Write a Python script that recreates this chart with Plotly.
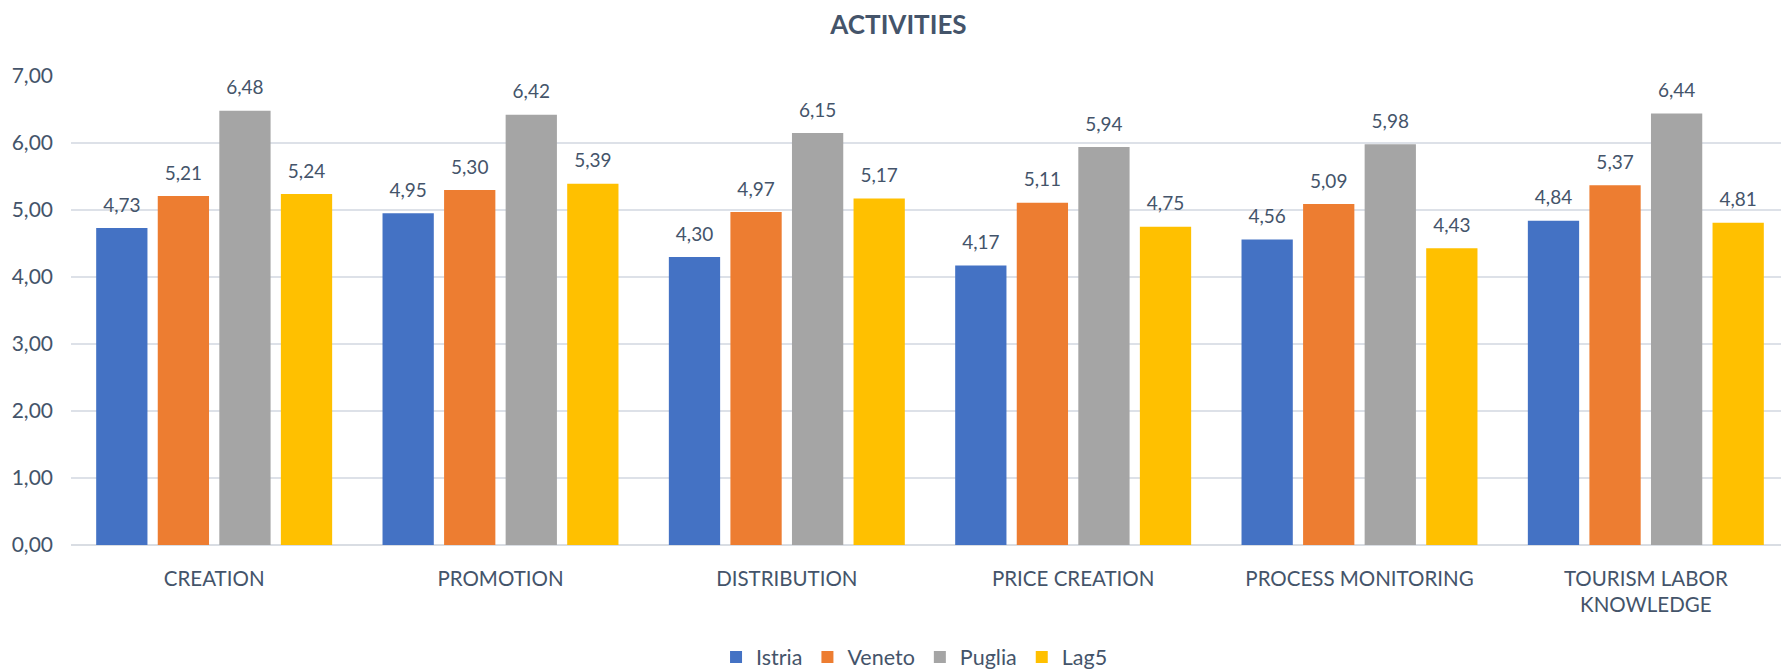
import plotly.graph_objects as go

# categories and values
categories = ["CREATION", "PROMOTION", "DISTRIBUTION", "PRICE CREATION",
              "PROCESS MONITORING", "TOURISM LABOR<br>KNOWLEDGE"]
istria = [4.73, 4.95, 4.30, 4.17, 4.56, 4.84]
veneto = [5.21, 5.30, 4.97, 5.11, 5.09, 5.37]
puglia = [6.48, 6.42, 6.15, 5.94, 5.98, 6.44]
lag5 = [5.24, 5.39, 5.17, 4.75, 4.43, 4.81]

series = [
    ("Istria", istria, "#4472C4"),
    ("Veneto", veneto, "#ED7D31"),
    ("Puglia", puglia, "#A5A5A5"),
    ("Lag5", lag5, "#FFC000"),
]

text_color = "#44546A"
font_family = "Lato, 'Open Sans', sans-serif"
gap = 0.14

# the page body keeps its default 8px margin, so the figure is 8px smaller
W, H = 1781, 663

fig = go.Figure()
for name, vals, color in series:
    fig.add_trace(go.Bar(
        x=categories, y=vals, name=name, offsetgroup=name,
        marker=dict(color=color, line=dict(width=0)),
    ))

# value labels: invisible markers push the text a bit higher above the bars
for name, vals, color in series:
    fig.add_trace(go.Scatter(
        x=categories, y=vals, name=name, offsetgroup=name, showlegend=False,
        mode="markers+text", marker=dict(size=17, opacity=0),
        texttemplate="%{y:.2f}", textposition="top center",
        textfont=dict(color=text_color, size=19, family=font_family),
        cliponaxis=False, hoverinfo="skip",
    ))

fig.update_layout(
    width=W, height=H,
    margin=dict(l=63, r=0, t=68, b=126, autoexpand=False),
    paper_bgcolor="white", plot_bgcolor="white",
    separators=",.",
    font=dict(family=font_family, color=text_color, size=19),
    title=dict(text="<b>ACTIVITIES</b>", x=0.5, xanchor="center",
               y=1 - 17 / H, yanchor="middle",
               font=dict(size=26, color=text_color, family=font_family)),
    barmode="group", bargap=gap, bargroupgap=0.167,
    scattermode="group", scattergap=gap,
    legend=dict(orientation="h", x=0.491, xanchor="center",
                yref="container", y=14 / H, yanchor="middle",
                font=dict(size=21.5, color=text_color), traceorder="normal",
                itemwidth=30),
    showlegend=True,
)

fig.update_yaxes(range=[0, 7], dtick=1, tickformat=".2f", automargin=False,
                 showgrid=True, gridcolor="#DDE1E8", gridwidth=1.5,
                 zeroline=True, zerolinecolor="#D9DDE3", zerolinewidth=2,
                 showline=False, ticks="", ticklabelstandoff=17,
                 tickfont=dict(size=21, color=text_color))
fig.update_xaxes(showline=False, ticks="", ticklabelstandoff=19, automargin=False,
                 tickfont=dict(size=20.5, color=text_color), tickangle=0)

fig.write_html("out.html")
